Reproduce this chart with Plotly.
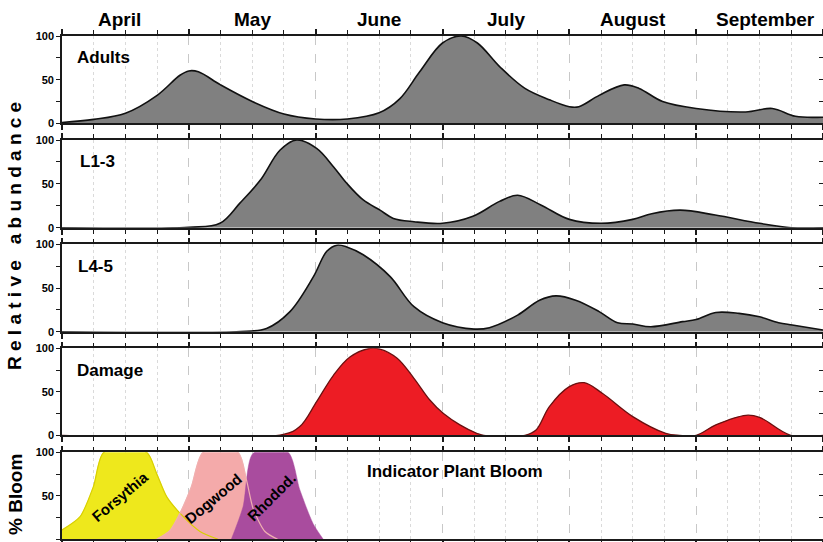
import plotly.graph_objects as go
from plotly.subplots import make_subplots

# x values are in weeks from April 1 (4 weeks per month panel)
months = ["April", "May", "June", "July", "August", "September"]
month_label_x = [1.8, 6, 10, 14, 18, 22.2]

adults_x = [0, 1, 2, 3, 3.72, 4, 4.3, 5, 6, 7, 8, 9, 10, 10.65, 11.28, 12, 12.59, 13.1, 13.8, 14.6, 15.37, 16, 16.3, 16.94, 17.73, 18.2, 18.94, 20, 21.56, 22.4, 23.13, 24]
adults_y = [1, 4.5, 11.5, 32, 55, 60, 59, 44, 25, 10.7, 5, 5, 12, 28, 59, 92, 100, 92, 65, 40, 27, 19, 19, 32, 44, 40, 25, 17, 13, 17, 8, 7]

l13_x = [0, 4, 4.98, 5.61, 6.25, 6.88, 7.4, 8.03, 8.56, 8.98, 9.5, 10.03, 10.45, 11.1, 12, 12.96, 13.8, 14.37, 15.1, 16, 17, 18, 18.6, 19.5, 20.6, 22, 23, 24]
l13_y = [0, 0.4, 5, 28, 54, 88.6, 100, 90.5, 69.6, 50.6, 31.6, 20, 10.6, 6.8, 5, 13, 30, 37, 26, 9.5, 5, 9.5, 16, 20, 14.4, 5, 0, 0]

l45_x = [0, 5.5, 6.45, 7.19, 7.93, 8.35, 8.67, 8.98, 9.5, 10.35, 11.1, 12, 13, 13.48, 14.37, 15.06, 15.58, 16.2, 16.94, 17.52, 18, 18.57, 19.57, 20, 20.62, 21.35, 22, 22.6, 23.03, 24]
l45_y = [0, 0, 3.8, 23, 63, 92, 99, 97, 88, 63, 28.6, 10.3, 3, 4.6, 19, 36, 41, 36, 23, 10.3, 8.8, 5.7, 11.5, 14, 22, 21, 17, 10.3, 7.6, 2]

dmg_x = [0, 6.98, 7.5, 8.03, 8.56, 9.08, 9.72, 10.03, 10.57, 11.1, 11.6, 12.03, 12.55, 13.08, 13.3, 14.6, 14.95, 15.37, 16, 16.47, 17.05, 18, 19.04, 19.47, 20, 20.62, 21.57, 22, 22.98, 24]
dmg_y = [0, 1, 10, 38.7, 69, 90, 100, 99, 88.5, 65.5, 40.6, 25, 12, 2.3, 0, 0, 6, 33, 56, 60.5, 48, 21.5, 2.3, 0, 0, 12, 23, 20.7, 0, 0]

bloom_names = ["Forsythia", "Dogwood", "Rhodod."]
fors_x = [0, 0.57, 0.99, 1.32, 2.67, 2.98, 3.3, 3.72, 4.35, 4.92]
fors_y = [10.7, 26, 60.5, 100, 100, 76, 49, 30, 9, 0]
dogw_x = [2.98, 3.4, 3.72, 4.08, 4.45, 5.55, 5.82, 6.03, 6.4, 6.8]
dogw_y = [0, 10, 30, 60.5, 100, 100, 68, 35, 9, 0]
rhod_x = [5.34, 5.71, 6.03, 7.13, 7.5, 7.92, 8.24]
rhod_y = [0, 37.5, 99, 100, 57, 18, 0]

FONT = "Arial, Liberation Sans, sans-serif"
GRAY = "#808080"

fig = make_subplots(rows=5, cols=1, shared_xaxes=True, vertical_spacing=0.0,
                    specs=[[{"secondary_y": True}]] * 5)

def area(x, y, row, fill, line, lw=1.6):
    fig.add_trace(go.Scatter(x=x, y=y, mode="lines", fill="tozeroy", fillcolor=fill,
                             line=dict(color=line, width=lw, shape="spline", smoothing=1.0),
                             hoverinfo="skip", showlegend=False), row=row, col=1)

area(adults_x, adults_y, 1, GRAY, "#111111")
area(l13_x, l13_y, 2, GRAY, "#111111")
area(l45_x, l45_y, 3, GRAY, "#111111")
area(dmg_x, dmg_y, 4, "#ED1C24", "#6a1010", 1.3)

bloom_fill = ["#EEE81C", "#F4AAAA", "#A94C9E"]
bloom_line = ["#D8CF00", "#F0B0B0", "#A94C9E"]
bx = [fors_x, dogw_x, rhod_x]
by = [fors_y, dogw_y, rhod_y]
for i in range(3):
    fig.add_trace(go.Scatter(x=bx[i], y=by[i], mode="lines", fill="tozeroy", fillcolor=bloom_fill[i],
                             line=dict(color=bloom_fill[i], width=0.5, shape="spline", smoothing=0.7),
                             hoverinfo="skip", showlegend=False), row=5, col=1)
for i in range(2):
    fig.add_trace(go.Scatter(x=bx[i], y=by[i], mode="lines",
                             line=dict(color=bloom_line[i], width=1.2, shape="spline", smoothing=0.7),
                             hoverinfo="skip", showlegend=False), row=5, col=1)

# empty traces so right-hand axes are drawn
for r in range(1, 6):
    fig.add_trace(go.Scatter(x=[], y=[], showlegend=False), row=r, col=1, secondary_y=True)

W, H = 823, 542
L = 62
panels_px = [(36, 123.3), (140, 227.7), (244.3, 331.7), (348.3, 435.3), (452.3, 539.3)]

fig.update_layout(width=W, height=H, margin=dict(l=L, r=0, t=0, b=0, autoexpand=False),
                  plot_bgcolor="white", paper_bgcolor="white",
                  font=dict(family=FONT, color="black"))

for i, (top, bot) in enumerate(panels_px):
    r = i + 1
    dom = [1 - bot / H, 1 - top / H]
    xa = "xaxis" if r == 1 else f"xaxis{r}"
    fig.layout[xa].update(range=[0, 24], domain=[0, 1], automargin=False,
                          showline=True, linecolor="#1a1a1a", linewidth=1.6,
                          mirror="ticks", ticks="outside", ticklen=5, tickwidth=1.6, tickcolor="#1a1a1a",
                          tick0=0, dtick=4, showticklabels=False,
                          showgrid=True, gridcolor="#c8c8c8", griddash="dash", gridwidth=1,
                          zeroline=False,
                          minor=dict(dtick=1, tick0=0, ticks="outside", ticklen=4, tickwidth=1,
                                     tickcolor="#1a1a1a", showgrid=True, gridcolor="#dadada",
                                     griddash="dot", gridwidth=1))
    fig.update_yaxes(range=[0, 100], domain=dom, automargin=False,
                     showline=True, linecolor="#1a1a1a", linewidth=1.6,
                     mirror=False, ticks="outside", ticklen=4, tickwidth=1.2, tickcolor="#1a1a1a",
                     tickvals=[0, 50, 100], tickfont=dict(size=11, weight="bold", family=FONT),
                     showgrid=False, zeroline=False,
                     minor=dict(tickvals=[25, 75], ticks="outside", ticklen=4, tickwidth=1.2,
                                tickcolor="#1a1a1a"),
                     row=r, col=1, secondary_y=False)
    fig.update_yaxes(range=[0, 100], automargin=False, showline=False, ticks="inside", ticklen=4,
                     tickwidth=1.2, tickcolor="#1a1a1a", tickvals=[25, 50, 75], showticklabels=False,
                     showgrid=False, zeroline=False, row=r, col=1, secondary_y=True)

ann = []
for m, mx in zip(months, month_label_x):
    ann.append(dict(x=mx, y=1 - 20 / H, xref="x", yref="paper", text=f"<b>{m}</b>",
                    showarrow=False, yanchor="middle", font=dict(size=19, family=FONT)))

labels = ["Adults", "L1-3", "L4-5", "Damage"]
lab_x = [0.4, 0.5, 0.45, 0.4]
for i, t in enumerate(labels):
    yref = "y" if i == 0 else f"y{2 * i + 1}"
    xref = "x" if i == 0 else f"x{i + 1}"
    ann.append(dict(x=lab_x[i], y=75, xref=xref, yref=yref, text=f"<b>{t}</b>", showarrow=False,
                    xanchor="left", yanchor="middle", font=dict(size=17, family=FONT)))

ann.append(dict(x=9.56, y=78, xref="x5", yref="y9", text="<b>Indicator Plant Bloom</b>", showarrow=False,
                xanchor="left", yanchor="middle", font=dict(size=17, family=FONT)))

bl_pos = [(1.83, 49, -40), (4.77, 47, -40), (6.62, 49, -45)]
for name, (x, y, a) in zip(bloom_names, bl_pos):
    ann.append(dict(x=x, y=y, xref="x5", yref="y9", text=f"<b>{name}</b>", showarrow=False,
                    textangle=a, font=dict(size=15, family=FONT)))

ann.append(dict(x=(14 - L) / (W - L), y=1 - 236 / H, xref="paper", yref="paper",
                text="<b>R e l a t i v e   a b u n d a n c e</b>", showarrow=False, textangle=-90,
                xanchor="center", yanchor="middle", font=dict(size=19, family=FONT)))
ann.append(dict(x=(15 - L) / (W - L), y=1 - 495 / H, xref="paper", yref="paper",
                text="<b>% Bloom</b>", showarrow=False, textangle=-90,
                xanchor="center", yanchor="middle", font=dict(size=19, family=FONT)))

fig.update_layout(annotations=ann)
fig.write_html("out.html", config={"displayModeBar": False},
               post_script="document.body.style.margin='0px';document.body.style.overflow='hidden';")
